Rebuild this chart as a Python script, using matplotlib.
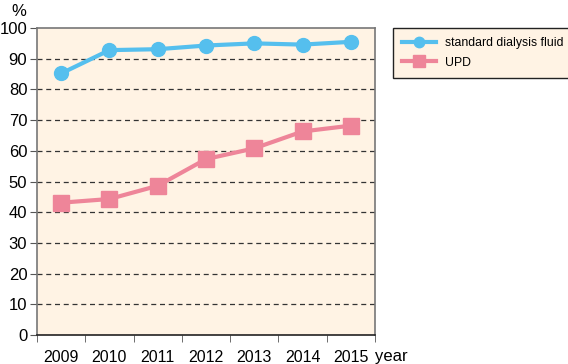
import matplotlib.pyplot as plt
import numpy as np

years = ['2009', '2010', '2011', '2012', '2013', '2014', '2015']
standard = [85.2, 92.8, 93.1, 94.3, 95.0, 94.6, 95.5]
upd = [43.1, 44.3, 48.6, 57.3, 60.8, 66.3, 68.2]

plt.rcParams['font.family'] = ['Liberation Sans', 'DejaVu Sans']

bg = '#FFF3E4'
blue = '#55BFEE'
pink = '#EE8599'

fig = plt.figure(figsize=(5.68, 3.64), dpi=100)
ax = fig.add_axes([0.0651, 0.0797, 0.595, 0.8433])
ax.set_facecolor(bg)

x = np.arange(len(years))
ax.plot(x, standard, color=blue, lw=3, marker='o', ms=10, label='standard dialysis fluid')
ax.plot(x, upd, color=pink, lw=3, marker='s', ms=11, label='UPD')

ax.set_xlim(-0.5, len(years) - 0.5)
ax.set_ylim(0, 100)
ax.set_yticks(range(0, 101, 10))
ax.set_xticks(x)
ax.set_xticklabels(years)
ax.tick_params(axis='x', length=0, labelsize=11.5, pad=11)
ax.set_xticks(np.arange(-0.5, len(years)), minor=True)
ax.tick_params(axis='x', which='minor', length=5, color='#555555')
ax.tick_params(axis='y', length=5, labelsize=12, pad=2, color='#555555')

for v in range(10, 100, 10):
    ax.axhline(v, color='#333333', lw=0.9, ls=(0, (4, 3)), zorder=1)

for s in ['left', 'right', 'top']:
    ax.spines[s].set_color('#777777')
    ax.spines[s].set_linewidth(1.2)
ax.spines['bottom'].set_color('#222222')
ax.spines['bottom'].set_linewidth(1.2)

fig.text(0.034, 0.99, '%', fontsize=12, ha='center', va='top')
fig.text(0.661, 0.009, 'year', fontsize=12, ha='left', va='baseline')

leg = fig.legend(loc='upper left', bbox_to_anchor=(393 / 568, 1 - 28 / 364, 0.32, 0.0),
                 mode='expand', fontsize=8.8,
                 frameon=True, fancybox=False, handlelength=2.8, markerscale=0.75,
                 borderpad=0.72, borderaxespad=0, labelspacing=0.65, handletextpad=0.75)
leg.get_frame().set_facecolor(bg)
leg.get_frame().set_edgecolor('#222222')
leg.get_frame().set_linewidth(1.0)
leg.get_frame().set_alpha(1)

fig.savefig('out.png', dpi=100)
